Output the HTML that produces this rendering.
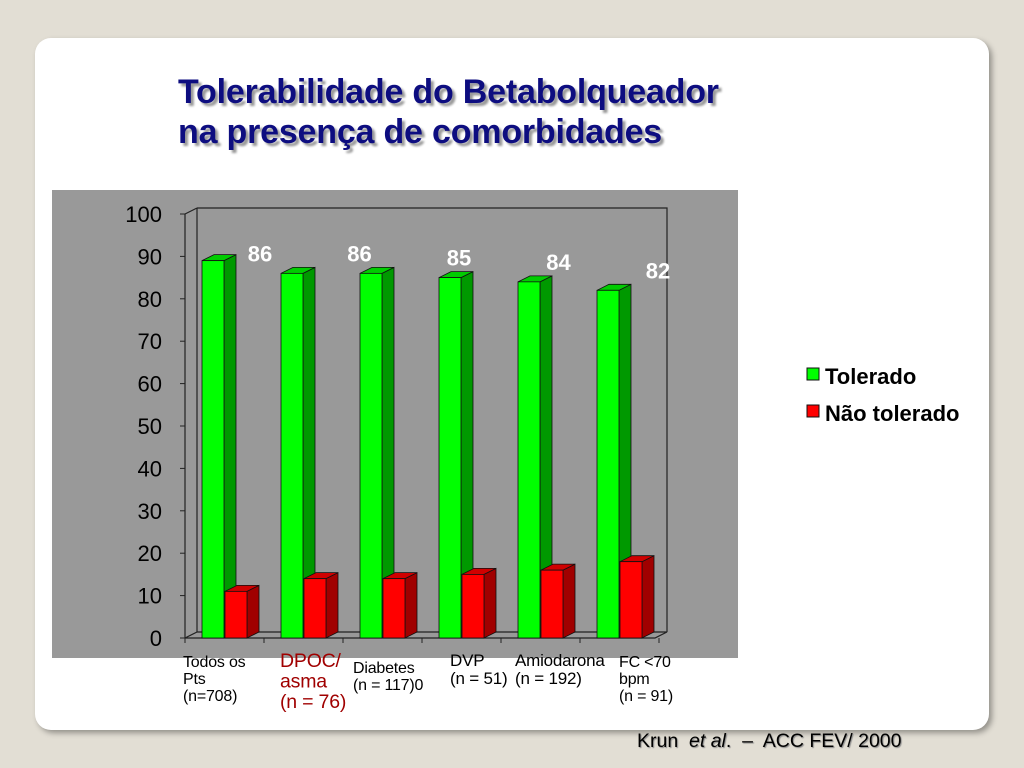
<!DOCTYPE html>
<html><head><meta charset="utf-8"><style>
html,body{margin:0;padding:0;width:1024px;height:768px;overflow:hidden;background:#e2ded4;font-family:"Liberation Sans",sans-serif;}
#card{position:absolute;left:35px;top:38px;width:954px;height:692px;background:#fff;border-radius:16px;box-shadow:3px 3px 6px rgba(0,0,0,0.35);}
.title{position:absolute;left:178px;top:72px;font-size:34px;font-weight:bold;line-height:40px;color:#0d0d80;text-shadow:3px 3px 2px #999;letter-spacing:-0.2px;}
.cite{position:absolute;left:637px;top:730px;font-size:19.5px;color:#000;text-shadow:1px 1px 1px #888;}
</style></head><body>
<div id="card"></div>
<div class="title">Tolerabilidade do Betabolqueador<br>na presença de comorbidades</div>
<svg id="chart" width="1024" height="768" style="position:absolute;left:0;top:0"></svg>
<div class="cite">Krun&nbsp; <i>et al</i>.&nbsp; –&nbsp; ACC FEV/ 2000</div>
<script>
const categories = ["Todos os|Pts|(n=708)","DPOC/|asma|(n = 76)","Diabetes|(n = 117)0","DVP|(n = 51)","Amiodarona|(n = 192)","FC <70|bpm|(n = 91)"];
const tolerado = [89,86,86,85,84,82];
const naoTolerado = [11,14,14,15,16,18];
const valueLabels = ["86","86","85","84","82"];
const yTicks = [0,10,20,30,40,50,60,70,80,90,100];

const NS="http://www.w3.org/2000/svg";
const svg=document.getElementById('chart');
function mk(tag,attrs,parent){const e=document.createElementNS(NS,tag);for(const k in attrs)e.setAttribute(k,attrs[k]);(parent||svg).appendChild(e);return e;}
const y0=638, pxu=4.24, dx=12, dy=6;
const y=v=>y0-v*pxu;
const gx=i=>202+i*79;

let bg=mk('rect',{x:52,y:190,width:686,height:468,fill:'#999999'});


let wall=mk('path',{d:`M${185+dx} ${y(100)-dy} L${667} ${y(100)-dy} L667 ${y0-dy} M${185+dx} ${y(100)-dy} L${185+dx} ${y0-dy} L667 ${y0-dy} L${667-dx} ${y0} L185 ${y0} M${185} ${y(100)} L${185+dx} ${y(100)-dy} M185 ${y0} L${185+dx} ${y0-dy}`,fill:'none',stroke:'#222','stroke-width':1.2});


let ax=mk('line',{x1:185,y1:y(100),x2:185,y2:y0,stroke:'#222','stroke-width':1.2});


yTicks.forEach(t=>{
  mk('line',{x1:180,y1:y(t),x2:185,y2:y(t),stroke:'#222'});
  const tx=mk('text',{x:162,y:y(t)+8,'font-size':22,'text-anchor':'end',fill:'#000'});
  tx.textContent=t;
  
  
});
for(let i=0;i<=6;i++){mk('line',{x1:185+i*79,y1:y0,x2:185+i*79,y2:y0+5,stroke:'#222'});}
function bar3d(x,v,front,side,top,name){
  const g=mk('g',{});
  
  
  const w=22, yt=y(v);
  mk('path',{d:`M${x+w} ${yt} L${x+w+dx} ${yt-dy} L${x+w+dx} ${y0-dy} L${x+w} ${y0} Z`,fill:side,stroke:'#111','stroke-width':0.8},g);
  mk('path',{d:`M${x} ${yt} L${x+dx} ${yt-dy} L${x+w+dx} ${yt-dy} L${x+w} ${yt} Z`,fill:top,stroke:'#111','stroke-width':0.8},g);
  mk('rect',{x:x,y:yt,width:w,height:y0-yt,fill:front,stroke:'#111','stroke-width':0.8},g);
}
categories.forEach((c,i)=>{
  bar3d(gx(i),tolerado[i],'#00ff00','#009900','#00cc00','bar-tolerado-'+i);
  bar3d(gx(i)+23,naoTolerado[i],'#ff0000','#a00000','#d00000','bar-nao-tolerado-'+i);
  const lines=c.split('|');
  const lx=[183,280,353,450,515,619][i], fs=[16,19.5,16,17,17,16][i], col=i==1?'#a00000':'#000';
  lines.forEach((l,j)=>{
    const t=mk('text',{x:lx,y:[667,667,673,666,666,667][i]+j*(fs+1),'font-size':fs,fill:col,'letter-spacing':'-0.2'});
    t.textContent=l;
    
    
  });
});
valueLabels.forEach((v,i)=>{
  const t=mk('text',{x:260+i*99.5,y:y(tolerado[i+1])-12,'font-size':22,'font-weight':'bold','text-anchor':'middle',fill:'#fff'});
  t.textContent=v;
  
  
});
[['Tolerado','#00ff00',376],['Não tolerado','#ff0000',413]].forEach(([n,c,yy])=>{
  const g=mk('g',{});
  
  
  mk('rect',{x:807,y:yy-8,width:12,height:12,fill:c,stroke:'#111'},g);
  const t=mk('text',{x:825,y:yy+8,'font-size':22,fill:'#000','font-weight':'bold'},g);
  t.textContent=n;
});
</script>
</body></html>
